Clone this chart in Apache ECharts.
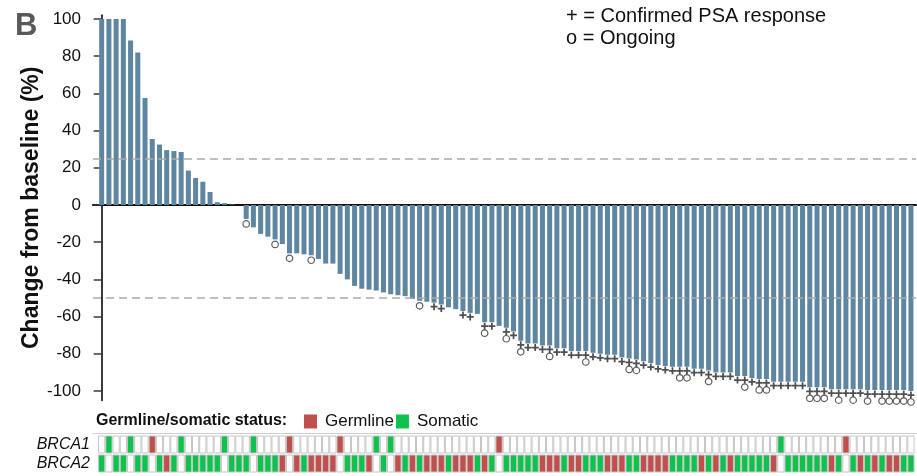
<!DOCTYPE html>
<html>
<head>
<meta charset="utf-8">
<title>Best PSA change from baseline</title>
<script src="https://cdn.jsdelivr.net/npm/echarts@6/dist/echarts.min.js"></script>
<style>
  html, body { margin: 0; padding: 0; background: #fff; }
  #chart { width: 917px; height: 476px; }
</style>
</head>
<body>
<div id="chart"></div>
<script>
// Best PSA change from baseline (%) per patient, sorted from worst to best.
const changeFromBaseline = [
  100, 100, 100, 100, 88.5, 82, 57.5, 35.5, 32.5, 29.5,
  29, 28.5, 18.5, 14.5, 12.5, 7, 1.5, 1, 0.3, 0,
  -7.5, -12, -15.5, -17, -18.5, -21, -26, -26, -26.5, -27,
  -29, -31.5, -31.5, -37, -40, -43.5, -45, -45.5, -46, -47,
  -48, -48.5, -49, -50.5, -51.5, -52, -52.5, -53.5, -55, -56,
  -57, -58, -58.5, -63, -63, -65, -66, -68, -73, -74.5,
  -74.5, -75.5, -75.5, -77, -77, -78.5, -78.5, -78.5, -79.5, -80,
  -80.5, -80.5, -82, -82.5, -83, -84, -85, -86, -86.5, -87,
  -87, -87, -88, -88, -89, -90, -90, -90, -92, -92,
  -93, -93.5, -93.5, -95, -95, -95, -95, -95, -98, -98,
  -98, -99, -99, -99, -99, -99, -99.5, -99.5, -99.5, -99.5,
  -99.5, -99.5, -100
];

// Patient numbers (1-based) with a confirmed PSA response.
const confirmedResponse = [47, 48, 51, 52, 54, 55, 57, 58].concat(
  Array.from({ length: 113 - 59 + 1 }, (_, k) => 59 + k)
);

// Patient numbers (1-based) still on treatment.
const ongoing = [
  21, 25, 27, 30, 45, 54, 57, 59, 63, 68, 74, 75, 81, 82, 85, 90, 92, 93,
  99, 100, 101, 103, 105, 107, 109, 110, 111, 112, 113
];

// Alteration status per patient: G = germline, S = somatic, - = none.
const brca1Status = (
  '-S--S--G--' + '-S-----S--' + '-S----G---' + '---G----S-' + 'S---------' +
  '-----G----' + '----------' + '----------' + '----------' + '----S-----' +
  '---G------' + '---'
).split('');
const brca2Status = (
  'S-SS-SS-SG' + 'S-SSSSS-SS' + 'S-SSSG-GSG' + 'GGG-SSSG-S' + '-GSGSGGGSG' +
  'GGSGS-SSSS' + 'SGGGSGGSSS' + 'GGGSSGGGGS' + 'SSSGSGSGSS' + 'SSSG-SSSSS' +
  'SGS-SGSGSG' + 'GSS'
).split('');

const geneRows = ['BRCA2', 'BRCA1'];
const yTicks = [-100, -80, -60, -40, -20, 0, 20, 40, 60, 80, 100];
const thresholdLines = [25, -50];

const FONT = '"Liberation Sans", Arial, Helvetica, sans-serif';
const BAR_COLOR = '#5e86a0';
const GERMLINE_COLOR = '#c0504d';
const SOMATIC_COLOR = '#0fc24e';
const CELL_BORDER = '#c6c6c6';

const chart = echarts.init(document.getElementById('chart'), null, { renderer: 'canvas' });

const barData = changeFromBaseline.map((v, i) => [i, v]);
const plusSet = new Set(confirmedResponse);
const plusData = confirmedResponse.map(p => [p - 1, changeFromBaseline[p - 1]]);
const ongoingData = ongoing.map(p => ({
  value: [p - 1, changeFromBaseline[p - 1]],
  symbolOffset: [0, plusSet.has(p) ? 11 : 5]
}));

// heatmap cells split by status so the legend can show germline / somatic
const cells = { G: [], S: [], '-': [] };
[brca2Status, brca1Status].forEach((row, r) => {
  row.forEach((code, i) => cells[code].push([i, r]));
});

function cellRenderer(fill) {
  return function (params, api) {
    const c = api.coord([api.value(0), api.value(1)]);
    const s = api.size([1, 1]);
    return {
      type: 'rect',
      shape: { x: c[0] - s[0] / 2 + 0.5, y: c[1] - s[1] / 2 + 1, width: s[0] - 1, height: s[1] - 2 },
      style: { fill: fill, stroke: CELL_BORDER, lineWidth: 1 }
    };
  };
}

const xRange = { min: -1.2, max: 112.7 };

const option = {
  backgroundColor: '#fff',
  animation: false,
  textStyle: { fontFamily: FONT },
  title: [
    { text: 'B', left: 15, top: 11, padding: 0, textStyle: { fontFamily: FONT, fontSize: 31, fontWeight: 'bold', color: '#595959' } },
    {
      text: '+ = Confirmed PSA response\no = Ongoing', left: 566, top: 5, padding: 0,
      textStyle: { fontFamily: FONT, fontSize: 20, fontWeight: 'normal', color: '#111', lineHeight: 22 }
    },
    { text: 'Germline/somatic status:', left: 96, top: 413, padding: 0, textStyle: { fontFamily: FONT, fontSize: 16, fontWeight: 'bold', color: '#111' } }
  ],
  legend: {
    data: ['Germline', 'Somatic'],
    left: 304, top: 413, padding: 0,
    icon: 'rect', itemWidth: 13, itemHeight: 14, itemGap: 2,
    textStyle: { fontFamily: FONT, fontSize: 17, color: '#111', padding: [0, 0, 0, 3] },
    selectedMode: false
  },
  grid: [
    { left: 93, right: 1, top: 15.3, height: 385 },
    { left: 93, right: 1, top: 435, height: 38 }
  ],
  xAxis: [
    {
      gridIndex: 0, type: 'value', min: xRange.min, max: xRange.max,
      axisLine: { show: true, onZero: true, lineStyle: { color: '#111', width: 2 } },
      axisTick: { show: false }, axisLabel: { show: false }, splitLine: { show: false }
    },
    {
      gridIndex: 1, type: 'value', min: xRange.min, max: xRange.max, position: 'top', offset: 2,
      axisLine: { show: true, lineStyle: { color: '#cfcfcf', width: 1 } },
      axisTick: { show: false }, axisLabel: { show: false }, splitLine: { show: false }
    }
  ],
  yAxis: [
    {
      gridIndex: 0, type: 'value', min: -105, max: 102,
      name: 'Change from baseline (%)', nameLocation: 'middle', nameGap: 50, nameMoveOverlap: false,
      nameTextStyle: { fontFamily: FONT, fontSize: 23, fontWeight: 'bold', color: '#111' },
      axisLine: { show: true, lineStyle: { color: '#3a3a3a', width: 2 } },
      axisTick: { show: true, length: 8, customValues: yTicks, lineStyle: { color: '#3a3a3a', width: 1.5 } },
      axisLabel: { customValues: yTicks, margin: 12, fontFamily: FONT, fontSize: 17, color: '#111' },
      splitLine: { show: false }
    },
    {
      gridIndex: 1, type: 'category', data: geneRows,
      axisLine: { show: false }, axisTick: { show: false },
      axisLabel: { interval: 0, margin: 3, fontFamily: FONT, fontSize: 16, fontStyle: 'italic', color: '#111' }
    }
  ],
  series: [
    {
      name: 'Change', type: 'bar', xAxisIndex: 0, yAxisIndex: 0,
      data: barData, barWidth: 5,
      itemStyle: { color: BAR_COLOR },
      markLine: {
        silent: true, symbol: 'none', label: { show: false },
        lineStyle: { color: '#ababab', type: [8, 5], width: 1.5 },
        data: thresholdLines.map(v => ({ yAxis: v }))
      }
    },
    {
      name: 'Confirmed PSA response', type: 'scatter', xAxisIndex: 0, yAxisIndex: 0,
      data: plusData,
      symbol: 'path://M3,0H5V3H8V5H5V8H3V5H0V3H3Z', symbolSize: 7, symbolOffset: [0, 4],
      itemStyle: { color: '#222' }, z: 3
    },
    {
      name: 'Ongoing', type: 'scatter', xAxisIndex: 0, yAxisIndex: 0,
      data: ongoingData,
      symbol: 'circle', symbolSize: 6.5,
      itemStyle: { color: '#fff', borderColor: '#333', borderWidth: 1.2 }, z: 4
    },
    {
      name: 'No alteration', type: 'custom', xAxisIndex: 1, yAxisIndex: 1,
      data: cells['-'], encode: { x: 0, y: 1 },
      renderItem: cellRenderer('#fff'), itemStyle: { color: '#fff' }
    },
    {
      name: 'Germline', type: 'custom', xAxisIndex: 1, yAxisIndex: 1,
      data: cells.G, encode: { x: 0, y: 1 },
      renderItem: cellRenderer(GERMLINE_COLOR), itemStyle: { color: GERMLINE_COLOR }
    },
    {
      name: 'Somatic', type: 'custom', xAxisIndex: 1, yAxisIndex: 1,
      data: cells.S, encode: { x: 0, y: 1 },
      renderItem: cellRenderer(SOMATIC_COLOR), itemStyle: { color: SOMATIC_COLOR }
    }
  ]
};

chart.setOption(option);
</script>
</body>
</html>
